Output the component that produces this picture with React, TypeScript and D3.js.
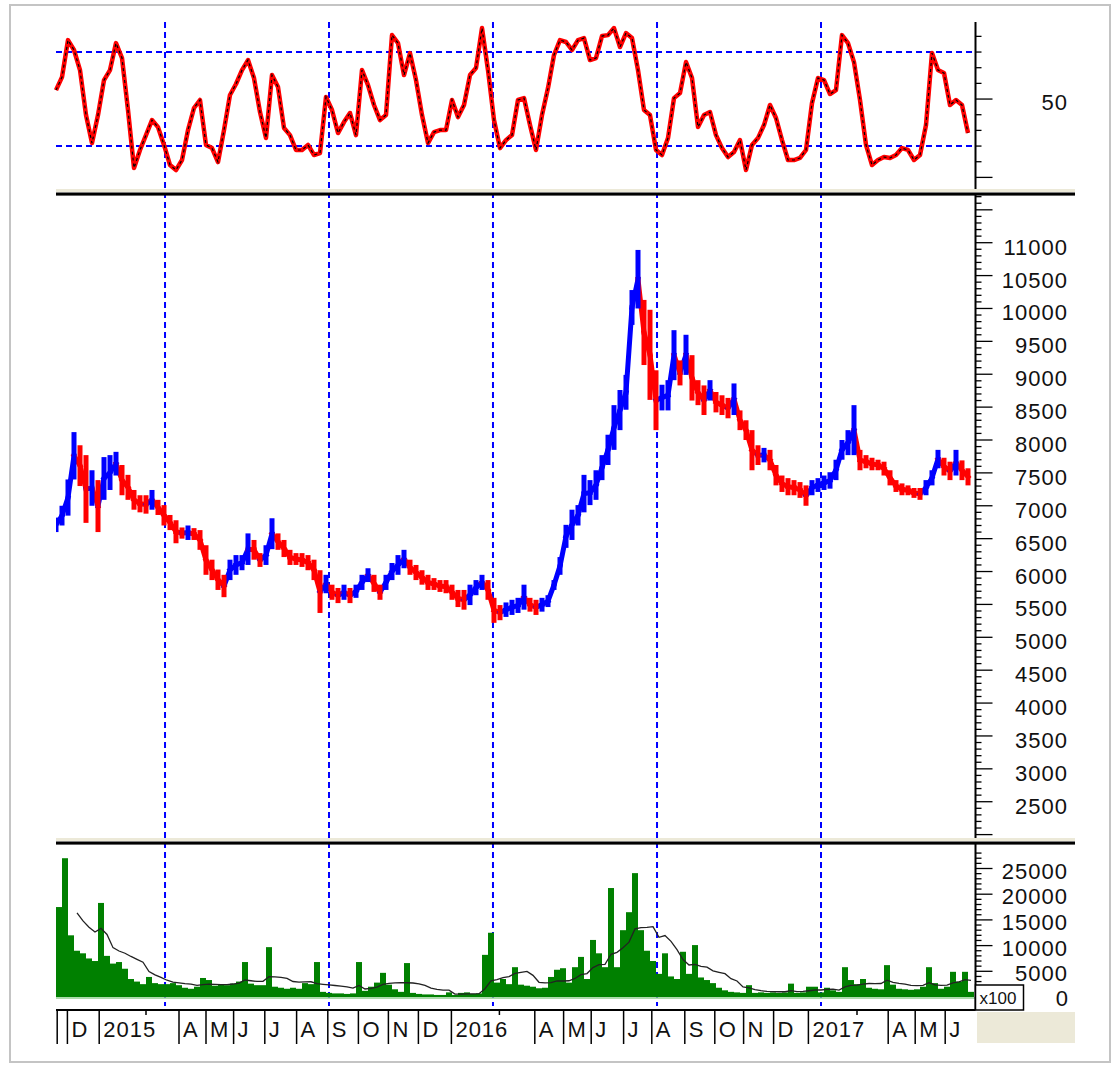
import React from "react";
import * as d3 from "d3";

// bar index positions of month starts (x axis is in bar units)
const monthAt = [0.2, 1.9, 7.2, 20.5, 25, 29.6, 34.8, 40.1, 45.3, 50.4, 55.4, 60.4, 65.9, 79.8, 84.6, 89.2, 94.6, 99.3, 104.8, 109.8, 114.6, 119.6, 125.4, 138.7, 143.2, 148.2];
const monthLabel = ["", "D", "2015", "A", "M", "J", "J", "A", "S", "O", "N", "D", "2016", "A", "M", "J", "J", "A", "S", "O", "N", "D", "2017", "A", "M", "J"];
const minorMonthAt = [15, 73.9, 133.5];
const gridAt = [18.17, 45.5, 72.83, 100.17, 127.5];

const oscLevels = [20, 80];

const priceLo = [
  6600, 6700, 6850, 7400, 7300, 6740, 7000, 6600, 7090, 7240,
  7460, 7160, 7090, 6940, 6900, 6880, 6940, 6860, 6700, 6630,
  6430, 6500, 6480, 6480, 6330, 5950, 5870, 5720, 5610, 5870,
  5950, 6020, 6100, 6180, 6070, 6100, 6340, 6330, 6220, 6100,
  6100, 6070, 6020, 5870, 5370, 5670, 5570, 5520, 5570, 5520,
  5600, 5720, 5840, 5690, 5570, 5720, 5870, 5950, 6050, 5950,
  5870, 5800, 5720, 5720, 5690, 5670, 5570, 5460, 5420, 5490,
  5640, 5720, 5570, 5220, 5260, 5310, 5340, 5370, 5420, 5390,
  5340, 5390, 5460, 5720, 5950, 6360, 6480, 6700, 6900, 7010,
  7090, 7390, 7620, 7850, 8150, 8460, 9750, 10000, 9140, 8610,
  8150, 8450, 8450, 8910, 8830, 8990, 8600, 8530, 8380, 8600,
  8420, 8380, 8330, 8380, 8150, 8000, 7540, 7620, 7660, 7540,
  7310, 7210, 7160, 7160, 7120, 7000, 7160, 7210, 7240, 7260,
  7390, 7700, 7770, 7770, 7540, 7570, 7540, 7540, 7460, 7310,
  7210, 7160, 7160, 7120, 7090, 7160, 7310, 7570, 7460, 7390,
  7460, 7390, 7310,
];
const priceHi = [
  6820, 7000, 7400, 8120, 7920, 7770, 7540, 7390, 7740, 7770,
  7820, 7620, 7470, 7240, 7160, 7160, 7240, 7090, 7010, 6860,
  6780, 6670, 6700, 6660, 6630, 6400, 6180, 6030, 5950, 6180,
  6250, 6250, 6580, 6480, 6280, 6400, 6810, 6580, 6480, 6330,
  6280, 6280, 6250, 6180, 6020, 5950, 5800, 5750, 5800, 5750,
  5800, 5950, 6050, 5950, 5800, 5950, 6130, 6250, 6330, 6180,
  6100, 6020, 5950, 5900, 5870, 5870, 5800, 5720, 5720, 5800,
  5870, 5950, 5870, 5600, 5490, 5530, 5570, 5600, 5800, 5600,
  5570, 5600, 5640, 5870, 6220, 6710, 6940, 7010, 7470, 7390,
  7540, 7770, 8080, 8530, 8760, 8990, 10280, 10890, 10130, 9980,
  9060, 8840, 8910, 9670, 9210, 9600, 9290, 8910, 8830, 8910,
  8730, 8680, 8640, 8860, 8450, 8300, 8150, 7920, 7880, 7850,
  7620, 7460, 7420, 7390, 7360, 7310, 7390, 7420, 7460, 7510,
  7700, 8000, 8150, 8530, 7850, 7770, 7730, 7700, 7670, 7540,
  7390, 7340, 7310, 7270, 7270, 7390, 7540, 7850, 7730, 7670,
  7850, 7690, 7570,
];

const oscillator = [
  55.7, 64.0, 87.6, 81.3, 68.5, 39.8, 21.9, 39.8, 62.1, 68.5,
  85.7, 76.2, 43.0, 6.0, 17.5, 27.0, 36.6, 32.1, 20.7, 7.9,
  4.7, 11.1, 30.2, 44.3, 49.4, 20.7, 18.7, 9.8, 30.2, 52.6,
  59.6, 68.5, 74.9, 63.4, 41.7, 25.1, 65.3, 57.7, 31.5, 27.0,
  17.5, 17.5, 20.7, 14.3, 15.5, 51.3, 43.0, 28.3, 35.3, 41.1,
  27.0, 68.5, 58.9, 46.2, 36.6, 39.8, 90.8, 85.7, 65.3, 79.3,
  62.1, 39.8, 21.9, 28.9, 30.2, 30.2, 49.4, 38.5, 46.2, 65.3,
  69.8, 95.3, 68.5, 36.6, 18.7, 23.8, 27.0, 49.4, 50.6, 33.4,
  17.5, 39.8, 57.0, 78.1, 87.6, 86.4, 81.3, 87.6, 88.9, 74.9,
  76.2, 90.2, 90.8, 95.3, 83.2, 92.1, 88.9, 68.5, 43.0, 39.8,
  17.5, 14.3, 25.1, 50.6, 53.8, 73.6, 63.4, 32.1, 39.8, 41.7,
  27.0, 18.7, 13.0, 16.2, 23.8, 4.7, 20.7, 25.1, 33.4, 46.2,
  37.9, 23.8, 11.1, 11.1, 12.4, 17.5, 47.4, 63.4, 62.1, 53.2,
  55.7, 90.8, 85.7, 73.6, 49.4, 20.7, 7.9, 11.1, 13.0, 12.4,
  14.3, 18.7, 17.5, 11.1, 14.3, 33.4, 79.4, 68.5, 66.6, 46.2,
  49.4, 46.2, 28.3,
];

// volume, in units of 100
const volume = [
  17500, 27000, 12000, 9000, 8500, 7500, 7000, 18300, 8000, 6500,
  6800, 5500, 3500, 3000, 2500, 3900, 2700, 2500, 2500, 2700,
  2300, 1800, 1600, 2000, 3700, 3300, 2200, 2500, 2300, 2600,
  3000, 6800, 2600, 2300, 2300, 9700, 2000, 1800, 1600, 1800,
  1600, 2700, 2500, 6800, 1000, 800, 700, 700, 600, 700,
  6800, 1200, 2000, 2800, 4700, 2400, 1500, 1000, 6600, 800,
  600, 500, 500, 400, 400, 900, 400, 800, 900, 600,
  700, 8200, 12500, 2800, 3500, 2500, 5800, 2400, 2200, 2000,
  1700, 1800, 3900, 5300, 5600, 2800, 5800, 7800, 3500, 11100,
  8500, 5800, 21200, 5800, 13000, 16500, 24100, 13000, 9000, 7000,
  4500, 8500, 4000, 3500, 8800, 4500, 10100, 3800, 3300, 2700,
  1800, 1300, 1000, 900, 800, 2300, 800, 900, 800, 900,
  800, 900, 2600, 800, 900, 2000, 2000, 900, 1800, 1300,
  1000, 5800, 3300, 2500, 3500, 1800, 1600, 1500, 6200, 2400,
  1600, 1500, 1400, 1500, 2000, 5800, 2700, 1600, 2000, 4900,
  3000, 4900, 1000,
];

const FONT = "'Liberation Sans', Arial, sans-serif";
const BLUE = "#0000ff";
const RED = "#ff0000";
const BEIGE = "#ece9d8";

export default function App() {
  const L = 56;
  const AX = 975.5;
  const SEP_R = 1075;
  const X = d3.scaleLinear().domain([0, 153]).range([L, 974]);
  const yR = d3.scaleLinear().domain([0, 100]).range([177.4, 20.7]);
  const yP = d3.scaleLinear().domain([2000, 11000]).range([834.6, 242.7]);
  const yV = d3.scaleLinear().domain([0, 25000]).range([997, 868.5]);

  const oscLine = d3.line<number>().x((d, i) => X(i)).y((d) => yR(d))(oscillator);

  const mids = priceLo.map((lo, i) => (lo + priceHi[i]) / 2);
  const isUp = mids.map((m, i) => i === 0 || m >= mids[i - 1]);

  // trailing volume average
  const WIN = 8;
  const volMA = volume.map((_, i) => d3.mean(volume.slice(Math.max(0, i - WIN + 1), i + 1)) as number);
  const maLine = d3
    .line<number>()
    .defined((d, i) => i >= 3)
    .x((d, i) => X(i + 0.5))
    .y((d) => yV(d))(volMA);

  const oscTicks = d3.range(0, 100, 10);
  const priceTicks = d3.range(2000, 11800, 100);
  const volTicks = d3.range(0, 30000, 1000);

  const tick = (y: number, major: boolean, key: string | number) => (
    <line key={key} x1={AX} x2={AX + (major ? 17 : 6)} y1={y} y2={y} stroke="#000" strokeWidth={1.3} />
  );

  const separator = (y: number) => (
    <g>
      <rect x={L} y={y} width={SEP_R - L} height={3} fill={BEIGE} />
      <rect x={L} y={y + 3} width={SEP_R - L} height={1.2} fill="#808080" />
      <rect x={L} y={y + 4} width={SEP_R - L} height={2.6} fill="#000" />
    </g>
  );

  return (
    <svg width={1115} height={1065} style={{ position: "absolute", left: 0, top: 0, background: "#fff" }} fontFamily={FONT}>
      <defs>
        <clipPath id="plotClip">
          <rect x={L} y={197} width={AX - L} height={640} />
        </clipPath>
      </defs>
      <rect x={10} y={5} width={1100} height={1057} fill="#fff" stroke="#c4c4c4" strokeWidth={2} />

      {/* vertical grid */}
      {gridAt.map((g) => (
        <line key={g} x1={X(g)} x2={X(g)} y1={22} y2={1006} stroke={BLUE} strokeWidth={2} strokeDasharray="6 4" />
      ))}

      {/* oscillator panel */}
      {oscLevels.map((v) => (
        <line key={v} x1={L} x2={AX} y1={yR(v)} y2={yR(v)} stroke={BLUE} strokeWidth={2} strokeDasharray="6 4" />
      ))}
      <path d={oscLine || ""} fill="none" stroke={RED} strokeWidth={4.5} strokeLinejoin="round" />
      <path d={oscLine || ""} fill="none" stroke="#000" strokeWidth={1.2} strokeDasharray="3 3" />

      {/* price: high-low bars joined by their midpoints */}
      <g clipPath="url(#plotClip)">
        {priceLo.map((lo, i) =>
          i === 0 ? null : (
            <line
              key={"c" + i}
              x1={X(i - 1)}
              x2={X(i)}
              y1={yP(mids[i - 1])}
              y2={yP(mids[i])}
              stroke={isUp[i] ? BLUE : RED}
              strokeWidth={5}
              strokeLinecap="square"
            />
          )
        )}
        {priceLo.map((lo, i) => (
          <rect
            key={i}
            x={X(i) - 2.5}
            width={5}
            y={yP(priceHi[i])}
            height={yP(lo) - yP(priceHi[i])}
            fill={isUp[i] ? BLUE : RED}
          />
        ))}
      </g>

      {/* volume */}
      {volume.map((v, i) => (
        <rect key={i} x={X(i)} width={X(i + 1) - X(i)} y={yV(v)} height={yV(0) - yV(v)} fill="#008000" />
      ))}
      <line x1={L} x2={AX} y1={yV(0) + 1} y2={yV(0) + 1} stroke="#90d090" strokeWidth={1.5} />
      <path d={maLine || ""} fill="none" stroke="#222" strokeWidth={1.3} />

      {/* right axis */}
      <line x1={AX} x2={AX} y1={22} y2={1010} stroke="#000" strokeWidth={2} />
      {oscTicks.map((v) => tick(yR(v), v === 0 || v === 50, "o" + v))}
      <text x={1068} y={yR(50) + 11} textAnchor="end" fontSize={22} letterSpacing={1} fill="#111">50</text>

      {priceTicks.map((v) => tick(yP(v), v % 500 === 0, "p" + v))}
      {priceTicks.filter((v) => v % 500 === 0 && v >= 2500 && v <= 11000).map((v) => (
        <text key={"pl" + v} x={1068} y={yP(v) + 12} textAnchor="end" fontSize={22} letterSpacing={1} fill="#111">{v}</text>
      ))}

      {volTicks.filter((v) => yV(v) > 848).map((v) => tick(yV(v), v % 5000 === 0, "v" + v))}
      {[5000, 10000, 15000, 20000, 25000].map((v) => (
        <text key={"vl" + v} x={1068} y={yV(v) + 10} textAnchor="end" fontSize={22} letterSpacing={1} fill="#111">{v}</text>
      ))}
      <text x={1068} y={yV(0) + 9} textAnchor="end" fontSize={22} fill="#111">0</text>
      <rect x={AX} y={985} width={48} height={25} fill="#fff" stroke="#000" strokeWidth={1.5} />
      <text x={AX + 4} y={1004} fontSize={17} fill="#111">x100</text>

      {/* panel separators */}
      {separator(189)}
      {separator(838)}

      {/* time axis */}
      <line x1={L} x2={AX} y1={1010} y2={1010} stroke="#000" strokeWidth={2} />
      <rect x={977} y={1012} width={SEP_R - 977} height={31} fill={BEIGE} />
      {monthAt.map((m, i) => (
        <g key={"m" + i}>
          <line x1={X(m)} x2={X(m)} y1={1010} y2={1044} stroke="#000" strokeWidth={1.5} />
          <text x={X(m) + 4} y={1037} fontSize={22} letterSpacing={1} fill="#111">{monthLabel[i]}</text>
        </g>
      ))}
      {minorMonthAt.map((m) => (
        <line key={"mm" + m} x1={X(m)} x2={X(m)} y1={1010} y2={1015} stroke="#000" strokeWidth={1.5} />
      ))}
    </svg>
  );
}
